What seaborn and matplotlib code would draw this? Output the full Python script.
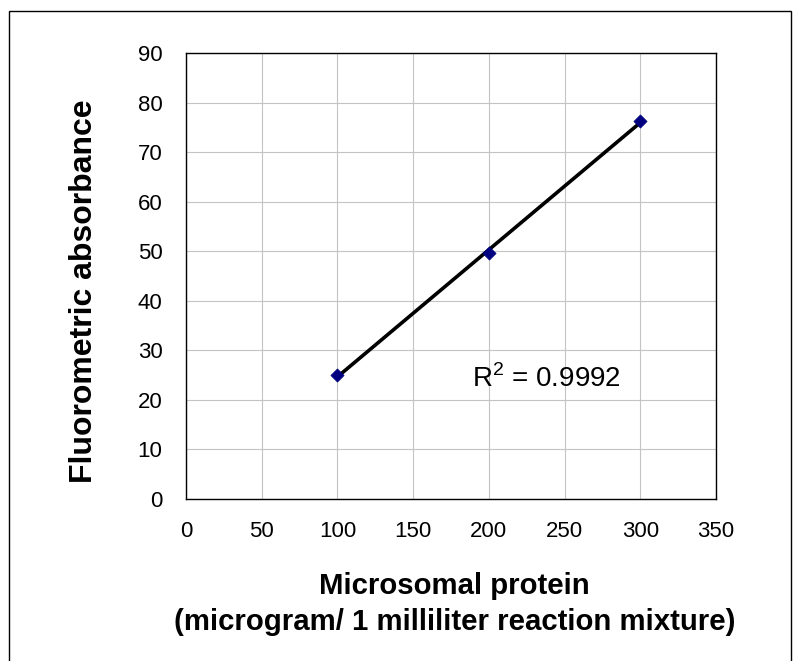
import numpy as np
import pandas as pd
import matplotlib
matplotlib.use("Agg")
import matplotlib.pyplot as plt
import seaborn as sns
from matplotlib.patches import Rectangle

protein = [100, 200, 300]
absorbance = [25.0, 49.6, 76.3]
r2_text = "R$^2$ = 0.9992"
x_ticks = [0, 50, 100, 150, 200, 250, 300, 350]
y_ticks = [0, 10, 20, 30, 40, 50, 60, 70, 80, 90]

sns.set_theme(style="white")
plt.rcParams['font.family'] = ['Liberation Sans', 'DejaVu Sans']
plt.rcParams['mathtext.fontset'] = 'custom'
plt.rcParams['mathtext.rm'] = 'Liberation Sans'
plt.rcParams['text.color'] = 'black'
plt.rcParams['axes.labelcolor'] = 'black'
plt.rcParams['xtick.color'] = 'black'
plt.rcParams['ytick.color'] = 'black'

df = pd.DataFrame({"x": protein, "y": absorbance})
slope, intercept = np.polyfit(df["x"], df["y"], 1)
fit = pd.DataFrame({"x": [min(protein), max(protein)]})
fit["y"] = slope * fit["x"] + intercept

W, H = 794, 661
fig = plt.figure(figsize=(W / 100, H / 100), dpi=100)
ax = fig.add_axes([186 / W, (H - 499) / H, 530 / W, 446 / H])

ax.grid(True, color="#c4c4c4", linewidth=0.8)
ax.set_axisbelow(True)

sns.lineplot(data=fit, x="x", y="y", ax=ax, color="black", linewidth=2.6, zorder=3)
sns.scatterplot(data=df, x="x", y="y", ax=ax, marker="D", s=45, color="#000080",
                edgecolor="#000080", linewidth=0.5, zorder=4)

ax.set_xlim(0, 350)
ax.set_ylim(0, 90)
ax.set_xticks(x_ticks)
ax.set_yticks(y_ticks)
ax.tick_params(axis="x", labelsize=16, pad=16, length=0)
ax.tick_params(axis="y", labelsize=16, pad=17, length=0)
for s in ax.spines.values():
    s.set_color("black")
    s.set_linewidth(1.0)

ax.set_xlabel("Microsomal protein\n(microgram/ 1 milliliter reaction mixture)",
              fontsize=21.2, fontweight="bold", linespacing=1.38)
ax.xaxis.set_label_coords(0.507, -0.163)
ax.set_ylabel("Fluorometric absorbance", fontsize=23, fontweight="bold")
ax.yaxis.label.set_va("baseline")
ax.yaxis.set_label_coords((92 - 186) / 530, 0.466)

ax.text(189, 22.6, r2_text, fontsize=20, va="baseline", ha="left")

fig.patches.append(Rectangle((9 / W, -0.1), (791 - 9) / W, 1.1 - 11 / H,
                             transform=fig.transFigure, fill=False,
                             edgecolor="black", linewidth=1.0))

fig.savefig("out.png", dpi=100)
